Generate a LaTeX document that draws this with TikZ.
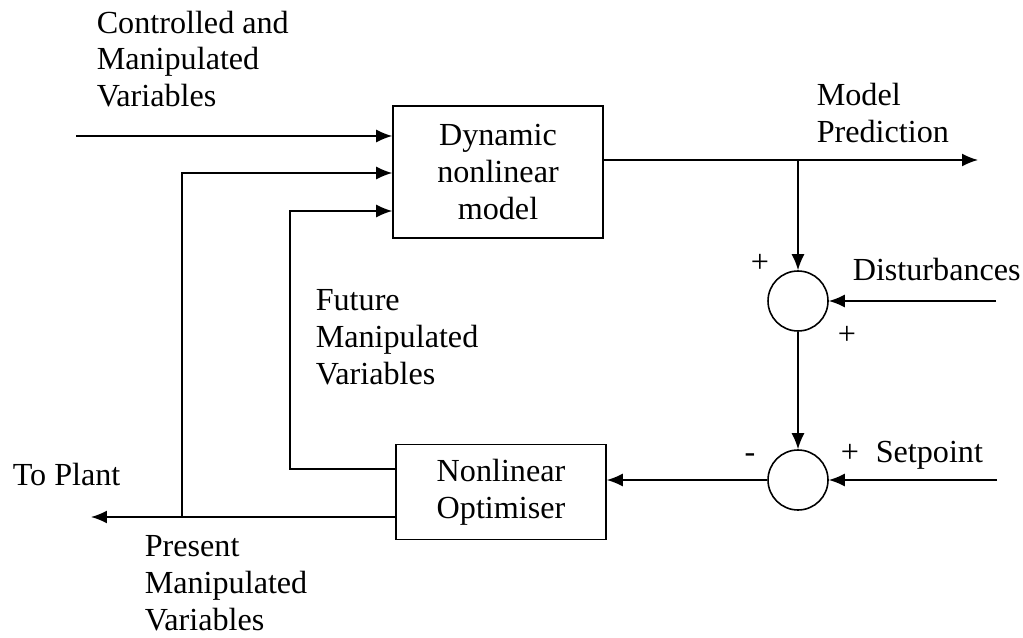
\documentclass[tikz,border=0pt]{standalone}
\usepackage{fontspec}
\setmainfont{Liberation Serif}
\usetikzlibrary{arrows.meta}

\tikzset{
  block/.style={draw, rectangle, align=center, inner sep=0pt},
  sumnode/.style={draw, circle, minimum size=1.2cm, inner sep=0pt},
  lbl/.style={align=left, inner sep=0pt},
}

\begin{document}
\begin{tikzpicture}[x=0.02cm, y=-0.02cm, line width=0.9pt,
    >={Latex[length=0.32cm,width=0.26cm]},
    font=\fontsize{18.3}{21}\selectfont]
    \useasboundingbox (0,0) rectangle (1023,638);
    % blocks
    \node[block, minimum width=4.2cm, minimum height=2.64cm] (model) at (498, 172) {Dynamic\\nonlinear\\model};
    \node[block, minimum width=4.2cm, minimum height=1.9cm] (opt) at (501, 492) {Nonlinear\\Optimiser};
    \node[sumnode] (sum1) at (798, 301) {};
    \node[sumnode] (sum2) at (798, 480) {};
    % labels
    \node[lbl, anchor=west] (ctrl) at (96, 59) {Controlled and\\Manipulated\\Variables};
    \node[lbl, anchor=west] (pred) at (816, 113) {Model\\Prediction};
    \node[lbl, anchor=base west] (dist) at (852, 280) {Disturbances};
    \node[lbl, anchor=base west] (setp) at (875, 462) {Setpoint};
    \node[lbl, anchor=base west] (plant) at (12, 485) {To Plant};
    \node[lbl, anchor=west] (future) at (315, 337) {Future\\Manipulated\\Variables};
    \node[lbl, anchor=west] (present) at (144, 583) {Present\\Manipulated\\Variables};
    \node (p1) at (760, 263) {+};
    \node (p2) at (847, 335) {+};
    \node (p3) at (850, 453) {+};
    \node (m1) at (750, 458) {-};
    % free ends
    \coordinate (in1) at (76, 136);
    \coordinate (in2) at (182, 173);
    \coordinate (in3) at (290, 211);
    \coordinate (fut) at (290, 469);
    \coordinate (pres) at (182, 517);
    \coordinate (out) at (91, 517);
    \coordinate (prend) at (978, 160);
    \coordinate (branch) at (798, 160);
    \coordinate (dstart) at (996, 301);
    \coordinate (sstart) at (997, 480);
    % connectors
    \draw [->] (in1) -- (in1 -| model.west);
    \draw [->] (pres) -- (in2) -- (in2 -| model.west);
    \draw [->] (opt.west |- fut) -- (fut) -- (in3) -- (in3 -| model.west);
    \draw [->] (opt.west |- pres) -- (out);
    \draw [->] (model.east |- prend) -- (prend);
    \draw [->] (branch) -- (sum1.north);
    \draw [->] (dstart) -- (sum1.east);
    \draw [->] (sum1.south) -- (sum2.north);
    \draw [->] (sstart) -- (sum2.east);
    \draw [->] (sum2.west) -- (sum2.west -| opt.east);
\end{tikzpicture}
\end{document}
